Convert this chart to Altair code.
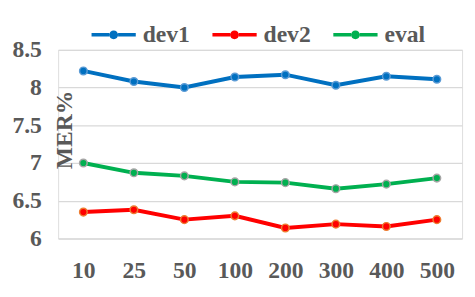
import altair as alt
import pandas as pd

categories = ["10", "25", "50", "100", "200", "300", "400", "500"]
dev1 = [8.22, 8.08, 8.00, 8.14, 8.17, 8.03, 8.15, 8.11]
dev2 = [6.35, 6.38, 6.25, 6.30, 6.14, 6.19, 6.16, 6.25]
evl = [7.00, 6.87, 6.83, 6.75, 6.74, 6.66, 6.72, 6.80]
series = ["dev1", "dev2", "eval"]
line_colors = ["#0070C0", "#FF0000", "#00B050"]
marker_strokes = ["#5B9BD5", "#ED7D31", "#A5A5A5"]
y_ticks = [6, 6.5, 7, 7.5, 8, 8.5]

rows = []
for name, vals in zip(series, [dev1, dev2, evl]):
    for c, v in zip(categories, vals):
        rows.append({"n": c, "series": name, "MER": v})
df = pd.DataFrame(rows)

FONT = "Liberation Serif"
TXT = "#595959"

x = alt.X("n:N", sort=categories, title=None,
          scale=alt.Scale(paddingOuter=0.5),
          axis=alt.Axis(labelAngle=0, labelFont=FONT, labelFontSize=24,
                        labelFontWeight="bold", labelColor=TXT, ticks=False,
                        domain=False, grid=False, labelPadding=21))
y = alt.Y("MER:Q", title="MER%",
          scale=alt.Scale(domain=[6, 8.5], nice=False, zero=False),
          axis=alt.Axis(values=y_ticks, format="~g", labelFont=FONT, labelFontSize=24,
                        labelFontWeight="bold", labelColor=TXT, ticks=False,
                        domain=False, gridColor="#D9D9D9", gridWidth=1.3,
                        labelPadding=17, titleFont=FONT, titleFontSize=24,
                        titleFontWeight="bold", titleColor=TXT,
                        titleAngle=270, titleAlign="center",
                        titleBaseline="alphabetic", titleX=14, titleY=81))

sym = ("M-1,-0.078 L-0.2,-0.078 L-0.2,0.078 L-1,0.078 Z "
       "M0.2,-0.078 L1,-0.078 L1,0.078 L0.2,0.078 Z "
       "M-0.2,0 A0.2,0.2 0 1,1 0.2,0 A0.2,0.2 0 1,1 -0.2,0 Z")

color_scale = alt.Scale(domain=series, range=line_colors)

lines = alt.Chart(df).mark_line(strokeWidth=4).encode(
    x=x, y=y,
    color=alt.Color("series:N", scale=color_scale, legend=None),
)

points = alt.Chart(df).mark_point(filled=True, size=60, opacity=1).encode(
    x=x, y=y,
    fill=alt.Fill("series:N", scale=color_scale,
                  legend=alt.Legend(title=None, orient="none", direction="horizontal",
                                    legendX=34, legendY=-38, symbolType=sym,
                                    symbolSize=2025, symbolStrokeWidth=0,
                                    symbolOpacity=1,
                                    labelFont=FONT, labelFontSize=24,
                                    labelFontWeight="bold", labelColor=TXT,
                                    labelOffset=7, columnPadding=23)),
    stroke=alt.Stroke("series:N", scale=alt.Scale(domain=series, range=marker_strokes),
                      legend=None),
    strokeWidth=alt.value(1.5),
)

chart = alt.layer(lines, points).resolve_scale(color="independent").properties(
    width=411, height=192,
    autosize=alt.AutoSizeParams(type="none"),
    padding={"left": 51, "top": 40, "right": 5, "bottom": 57},
).configure_view(stroke=None).configure(background="white")

chart.save("out.html", embed_options={"renderer": "svg", "actions": False})
